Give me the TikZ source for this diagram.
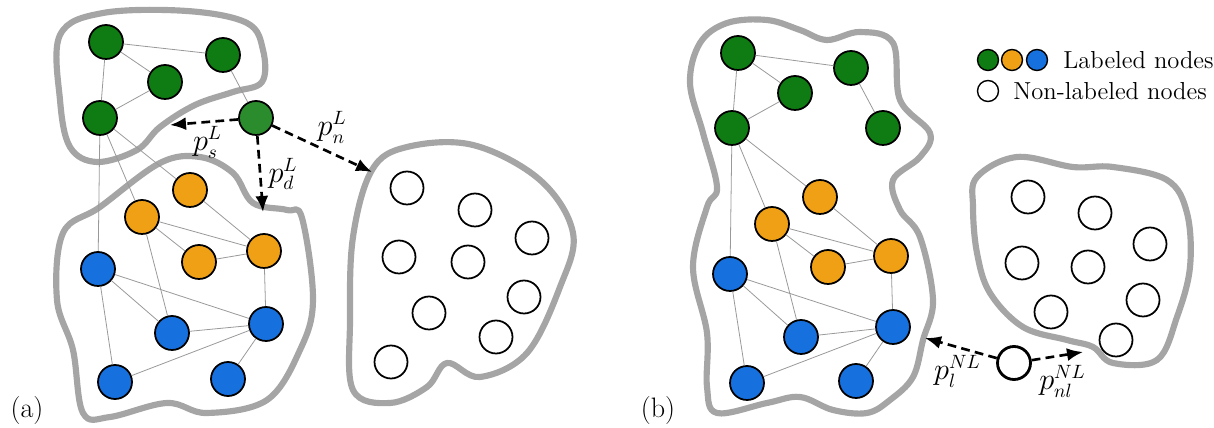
\documentclass[tikz,border=0pt]{standalone}
\usetikzlibrary{arrows.meta}
\definecolor{nodegreen}{RGB}{14,124,18}
\definecolor{nodeorange}{RGB}{240,160,20}
\definecolor{nodeblue}{RGB}{22,112,222}
\definecolor{regiongray}{RGB}{165,165,165}
\tikzset{
    labnode/.style={circle,draw,line width=1pt,minimum size=0.68cm,inner sep=0pt},
    greennode/.style={labnode,fill=nodegreen},
    orangenode/.style={labnode,fill=nodeorange},
    bluenode/.style={labnode,fill=nodeblue},
    unlabnode/.style={labnode,fill=white,minimum size=0.66cm},
    legnode/.style={circle,draw,line width=0.8pt,minimum size=0.42cm,inner sep=0pt},
    graphedge/.style={draw=black!40,line width=0.45pt},
    region/.style={draw=regiongray,line width=3.5pt,fill=white,line join=round},
    probline/.style={-{Latex[length=3.2mm,width=2.6mm]},line width=1.5pt,dash pattern=on 5pt off 3pt},
    problabel/.style={font=\fontsize{16}{18}\selectfont,inner sep=1pt},
    legtext/.style={anchor=west,font=\fontsize{14}{16}\selectfont,inner sep=0pt}
}
\begin{document}
\begin{tikzpicture}[x=0.02cm,y=-0.02cm]
    \useasboundingbox (0,0) rectangle (1214,428);
    % panel (a)
    \draw[region] plot[smooth cycle,tension=0.6] coordinates {(60,35) (103,13) (187,11) (247,23) (263,50) (262,82) (233,92) (195,105) (160,127) (137,150) (97,162) (70,147) (60,100)};
    \draw[region] plot[smooth cycle,tension=0.6] coordinates {(100,207) (160,163) (200,157) (233,173) (253,203) (287,210) (302,218) (313,300) (300,350) (267,400) (207,413) (167,403) (110,417) (83,413) (73,350) (57,300) (63,233)};
    \draw[region] plot[smooth cycle,tension=0.6] coordinates {(372,170) (407,147) (473,145) (540,180) (573,233) (560,287) (527,353) (480,377) (447,363) (427,387) (390,403) (353,390) (350,320) (353,237)};
    \node[greennode] (ga1) at (106,42) {};
    \node[greennode] (ga2) at (223,55) {};
    \node[greennode] (ga3) at (165,82) {};
    \node[greennode] (ga4) at (100,118) {};
    \node[greennode,fill=nodegreen!88!white] (ga5) at (256,118) {};
    \node[orangenode] (oa1) at (190,190) {};
    \node[orangenode] (oa2) at (142,217) {};
    \node[orangenode] (oa3) at (199,262) {};
    \node[orangenode] (oa4) at (264,251) {};
    \node[bluenode] (ba1) at (98,269) {};
    \node[bluenode] (ba2) at (172,333) {};
    \node[bluenode] (ba3) at (266,324) {};
    \node[bluenode] (ba4) at (115,382) {};
    \node[bluenode] (ba5) at (228,379) {};
    \node[unlabnode] (ua1) at (407,188) {};
    \node[unlabnode] (ua2) at (475,210) {};
    \node[unlabnode] (ua3) at (532,238) {};
    \node[unlabnode] (ua4) at (399,257) {};
    \node[unlabnode] (ua5) at (468,262) {};
    \node[unlabnode] (ua6) at (524,297) {};
    \node[unlabnode] (ua7) at (429,313) {};
    \node[unlabnode] (ua8) at (496,337) {};
    \node[unlabnode] (ua9) at (391,362) {};
    \draw[graphedge] (ga1) -- (ga2) (ga1) -- (ga3) (ga1) -- (ga4) (ga3) -- (ga4) (ga2) -- (ga5);
    \draw[graphedge] (ga4) -- (ba1) (ga4) -- (oa2) (ga4) -- (oa1) (oa1) -- (oa4);
    \draw[graphedge] (oa2) -- (oa3) (oa2) -- (oa4) (oa3) -- (oa4) (oa2) -- (ba2) (oa4) -- (ba3);
    \draw[graphedge] (ba1) -- (ba3) (ba1) -- (ba2) (ba1) -- (ba4) (ba2) -- (ba3) (ba4) -- (ba3) (ba5) -- (ba3);
    \coordinate (sa) at (170,125);
    \coordinate (da) at (263,212);
    \coordinate (na) at (372,172);
    \draw[probline] (ga5) -- node[problabel,pos=0.45,below=1pt] {$p_s^L$} (sa);
    \draw[probline] (ga5) -- node[problabel,right=3pt] {$p_d^L$} (da);
    \draw[probline] (ga5) -- node[problabel,pos=0.6,above=4pt] {$p_n^L$} (na);
    \node[problabel] (cap_a) at (27,410) {(a)};
    % panel (b)
    \draw[region] plot[smooth cycle,tension=0.6] coordinates {(700,43) (727,23) (767,20) (800,30) (827,40) (860,32) (893,43) (900,100) (930,133) (920,157) (893,180) (900,210) (920,237) (933,300) (923,340) (913,377) (890,400) (867,413) (833,410) (800,397) (767,403) (717,413) (707,387) (707,333) (693,267) (707,207) (717,187) (703,133) (690,83)};
    \draw[region] plot[smooth cycle,tension=0.6] coordinates {(977,177) (1017,157) (1073,167) (1113,167) (1167,180) (1187,213) (1190,267) (1177,317) (1157,360) (1113,363) (1093,347) (1067,340) (1023,327) (990,293) (977,253) (973,207)};
    \node[greennode] (gb1) at (738,53) {};
    \node[greennode] (gb2) at (851,68) {};
    \node[greennode] (gb3) at (795,93) {};
    \node[greennode] (gb4) at (732,128) {};
    \node[greennode] (gb5) at (883,128) {};
    \node[orangenode] (ob1) at (820,197) {};
    \node[orangenode] (ob2) at (772,224) {};
    \node[orangenode] (ob3) at (828,267) {};
    \node[orangenode] (ob4) at (891,256) {};
    \node[bluenode] (bb1) at (730,274) {};
    \node[bluenode] (bb2) at (801,337) {};
    \node[bluenode] (bb3) at (893,327) {};
    \node[bluenode] (bb4) at (747,383) {};
    \node[bluenode] (bb5) at (856,381) {};
    \node[unlabnode] (ub1) at (1028,197) {};
    \node[unlabnode] (ub2) at (1095,213) {};
    \node[unlabnode] (ub3) at (1150,244) {};
    \node[unlabnode] (ub4) at (1022,263) {};
    \node[unlabnode] (ub5) at (1088,267) {};
    \node[unlabnode] (ub6) at (1143,300) {};
    \node[unlabnode] (ub7) at (1051,312) {};
    \node[unlabnode] (ub8) at (1116,340) {};
    \node[unlabnode,line width=1.6pt] (ub9) at (1014,363) {};
    \draw[graphedge] (gb1) -- (gb2) (gb1) -- (gb3) (gb1) -- (gb4) (gb3) -- (gb4) (gb2) -- (gb5);
    \draw[graphedge] (gb4) -- (bb1) (gb4) -- (ob2) (gb4) -- (ob1) (ob1) -- (ob4);
    \draw[graphedge] (ob2) -- (ob3) (ob2) -- (ob4) (ob3) -- (ob4) (ob2) -- (bb2) (ob4) -- (bb3);
    \draw[graphedge] (bb1) -- (bb3) (bb1) -- (bb2) (bb1) -- (bb4) (bb2) -- (bb3) (bb4) -- (bb3) (bb5) -- (bb3);
    \coordinate (lb) at (925,338);
    \coordinate (nlb) at (1083,352);
    \draw[probline] (ub9) -- node[problabel,pos=0.55,below=3pt] {$p_l^{NL}$} (lb);
    \draw[probline] (ub9) -- node[problabel,pos=0.6,below=4pt] {$p_{nl}^{NL}$} (nlb);
    \node[problabel] (cap_b) at (658,410) {(b)};
    % legend
    \node[legnode,fill=nodegreen] (leggreen) at (988,60) {};
    \node[legnode,fill=nodeorange] (legorange) at (1012,60) {};
    \node[legnode,fill=nodeblue] (legblue) at (1037,60) {};
    \node[legtext] (labtext) at (1063,60) {Labeled nodes};
    \node[legnode,fill=white] (legwhite) at (988,91) {};
    \node[legtext] (unlabtext) at (1013,91) {Non-labeled nodes};
\end{tikzpicture}
\end{document}
